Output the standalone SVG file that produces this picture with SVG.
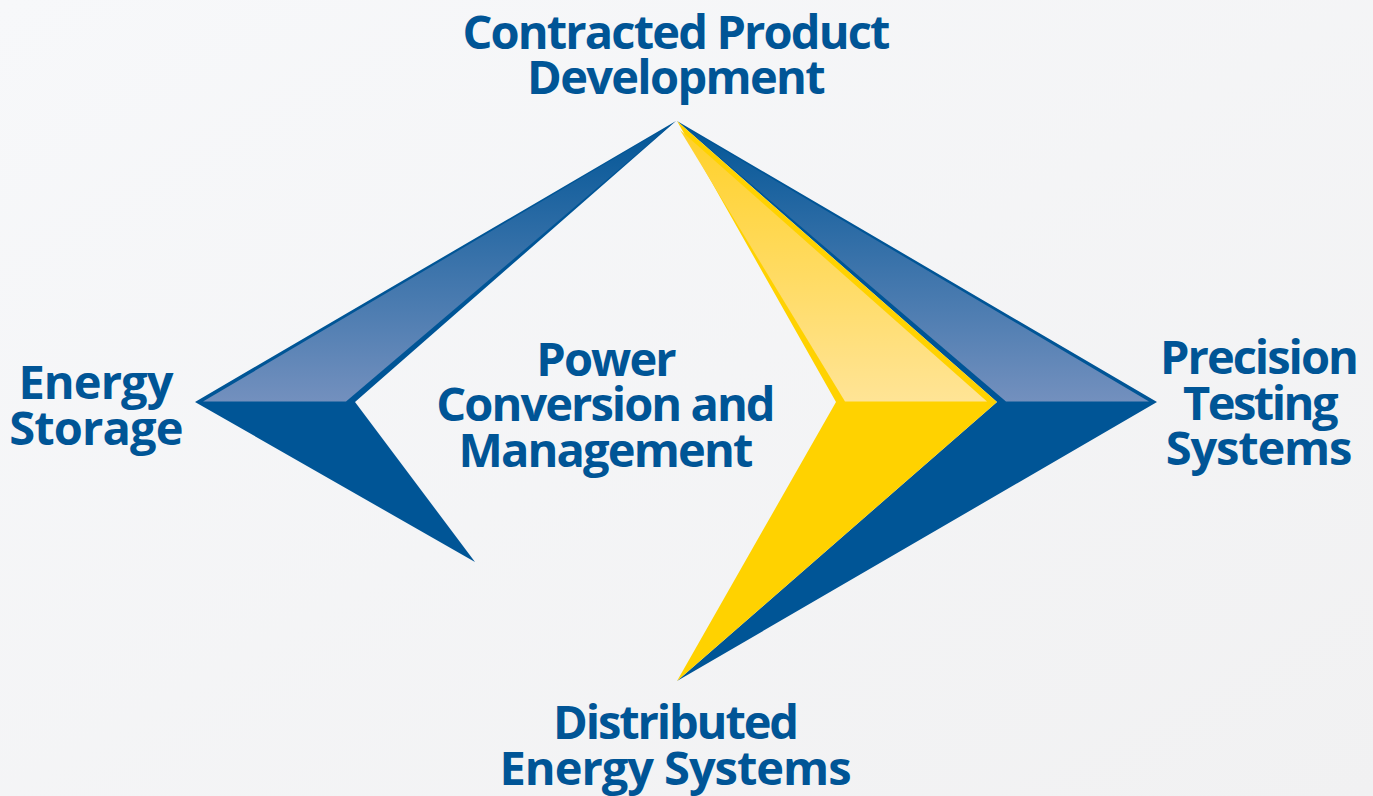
<svg xmlns="http://www.w3.org/2000/svg" width="1373" height="796" viewBox="0 0 1373 796">
<defs>
<linearGradient id="bg" x1="0" y1="0" x2="1" y2="1"><stop offset="0" stop-color="#f7f8fa"/><stop offset="1" stop-color="#f1f1f2"/></linearGradient>
<linearGradient id="bl" gradientUnits="userSpaceOnUse" x1="0" y1="121" x2="0" y2="402"><stop offset="0" stop-color="#005596"/><stop offset="1" stop-color="#7390be"/></linearGradient>
<linearGradient id="yl" gradientUnits="userSpaceOnUse" x1="0" y1="121" x2="0" y2="402"><stop offset="0" stop-color="#ffd024"/><stop offset="1" stop-color="#ffe496"/></linearGradient>
</defs>
<style>
text{font-family:"Open Sans","Noto Sans",sans-serif;font-weight:700;font-size:47px;fill:#005596;text-anchor:middle}
.b{fill:#005596}.y{fill:#ffd200}
.bt{fill:url(#bl)}
.yt{fill:url(#yl)}
</style>
<rect width="1373" height="796" fill="url(#bg)"/>
<g id="left-arrow">
<path class="b" d="M676 121L195 402L475 562L355 402Z"/>
<path class="bt" d="M671 125L203 401.5H346Z"/>
</g>
<g id="right-arrow">
<path class="b" d="M677 121L1157 402L677 681L997 402Z"/>
<path class="bt" d="M683 126L1149 401.5H1006Z"/>
</g>
<g id="yellow-arrow">
<path class="y" d="M677 121L997 402L677 681L836 402Z"/>
<path class="yt" d="M680 130L987 401.5H845Z"/>
</g>
<g id="top-label"><text x="675.5" y="49" letter-spacing="-1.85">Contracted Product</text><text x="675.5" y="94" letter-spacing="-1.7">Development</text></g>
<g id="left-label"><text x="95.5" y="399" letter-spacing="-0.9">Energy</text><text x="96" y="445" letter-spacing="-0.85">Storage</text></g>
<g id="center-label"><text x="605.5" y="376" letter-spacing="-1.9">Power</text><text x="605" y="421" letter-spacing="-1.96">Conversion and</text><text x="605" y="467" letter-spacing="-1.83">Management</text></g>
<g id="right-label"><text x="1258.5" y="374" letter-spacing="-2">Precision</text><text x="1259.5" y="420" letter-spacing="-2.5">Testing</text><text x="1258.5" y="465" letter-spacing="-1.17">Systems</text></g>
<g id="bottom-label"><text x="675" y="739" letter-spacing="-2.1">Distributed</text><text x="675" y="785" letter-spacing="-1.04">Energy Systems</text></g>
</svg>
